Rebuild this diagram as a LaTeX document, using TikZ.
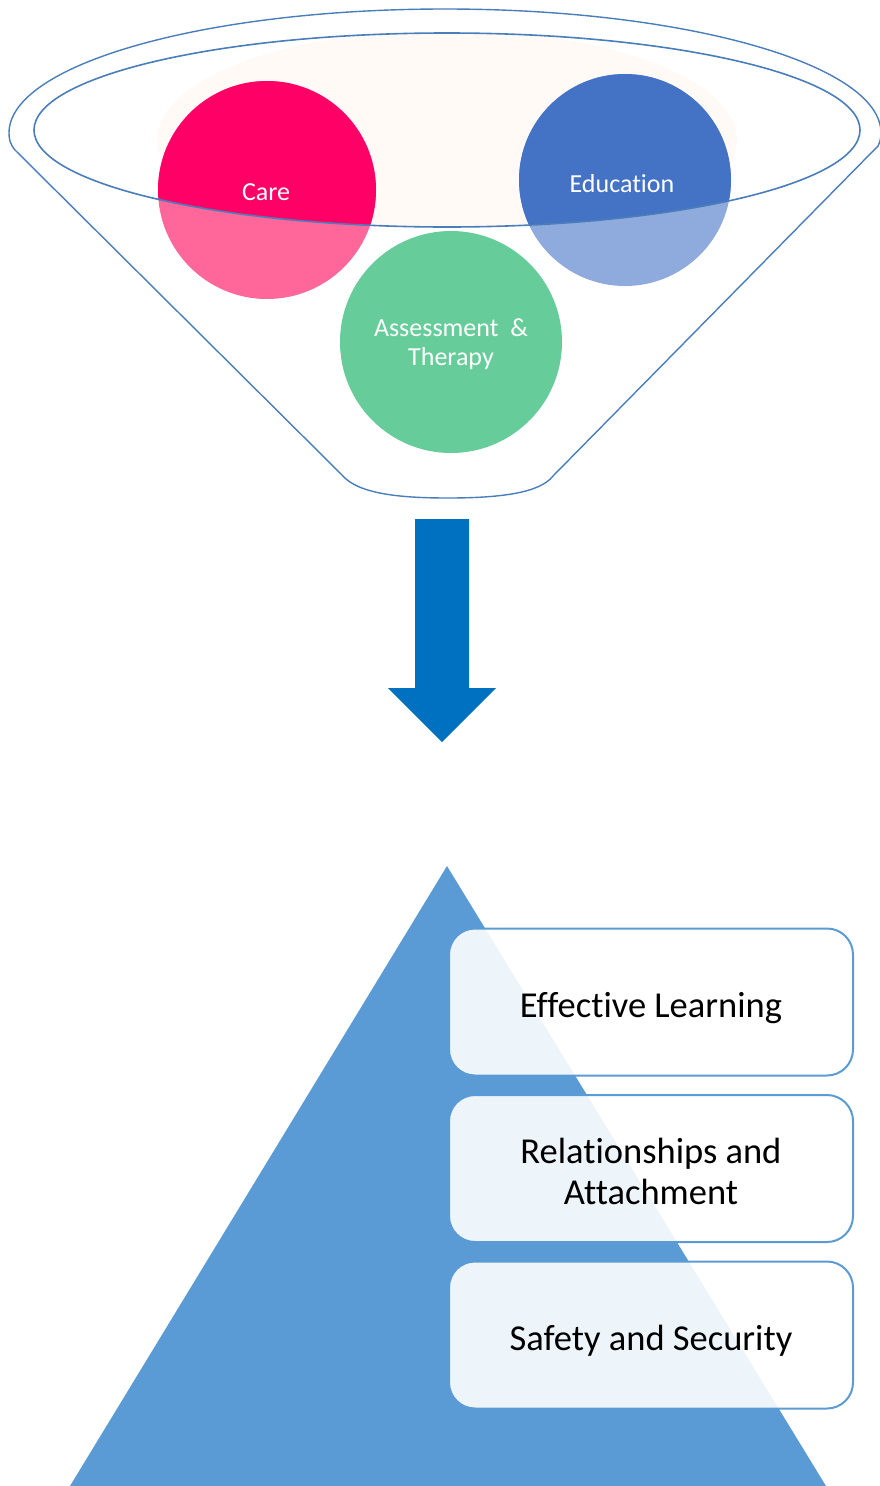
\documentclass[tikz,border=0pt]{standalone}
\usepackage{fontspec}
\setmainfont{Carlito}[Ligatures={NoCommon}]
\definecolor{caredark}{HTML}{FF0066}
\definecolor{carelight}{HTML}{FF6699}
\definecolor{edudark}{HTML}{4472C4}
\definecolor{edulight}{HTML}{8FAADC}
\definecolor{assgreen}{HTML}{66CC99}
\definecolor{arrowblue}{HTML}{0070C0}
\definecolor{pyrblue}{HTML}{5B9BD5}
\definecolor{funline}{HTML}{4A7EBB}
\definecolor{rimfill}{HTML}{FFFAF6}
\begin{document}
\begin{tikzpicture}[x=1pt,y=-1pt,
  funnelline/.style={draw=funline,line width=1.4pt},
  bubble/.style={circle,minimum size=220pt,inner sep=0pt,text=white,align=center,
     font=\fontsize{26}{29}\selectfont},
  levelbox/.style={draw=pyrblue,line width=2pt,rounded corners=26pt,fill=white,fill opacity=0.9,
     minimum width=404pt,minimum height=147pt},
  boxtext/.style={text=black,align=center,inner sep=0pt,font=\fontsize{36.5}{41}\selectfont}]
\useasboundingbox (0,0) rectangle (880,1486);
\clip (0,0) rectangle (880,1486);
% rim fill
\begin{scope}
  \clip (447,130) ellipse [x radius=413, y radius=97];
  \fill[rimfill] (447,140) ellipse [x radius=290, y radius=110];
\end{scope}
% funnel outline
\draw[funnelline] (15,150) .. controls (10,144) and (9,139) .. (9,133)
  arc[start angle=180,end angle=360,x radius=436,y radius=124]
  .. controls (881,138) and (880,142) .. (878,146)
  -- (553,476) .. controls (540,493) and (500,498) .. (448,498)
  .. controls (400,498) and (358,494) .. (342,475) -- cycle;
% circles
\fill[carelight] (267,190) circle[radius=109];
\fill[edulight] (625,180) circle[radius=106];
\begin{scope}
  \clip (447,130) ellipse [x radius=413, y radius=97];
  \fill[caredark] (267,190) circle[radius=109];
  \fill[edudark] (625,180) circle[radius=106];
\end{scope}
\fill[assgreen] (451,342) circle[radius=111];
% inner rim ellipse
\draw[funnelline,line width=1.6pt] (447,130) ellipse [x radius=413, y radius=97];
% labels
\node[bubble] (care) at (266,192) {Care};
\node[bubble] (edu) at (622,184) {Education};
\node[bubble] (ass) at (451,344) {Assessment\ \ \&\\Therapy};
% arrow
\fill[arrowblue] (415,519) -- (469,519) -- (469,688) -- (496,688) -- (442,742)
  -- (388,688) -- (415,688) -- cycle;
% pyramid
\fill[pyrblue] (447,866) -- (826,1486) -- (70,1486) -- cycle;
% boxes
\node[levelbox] (l1) at (651,1002) {};
\node[levelbox] (l2) at (651,1168.5) {};
\node[levelbox] (l3) at (651,1335) {};
\node[boxtext] (t1) at ([yshift=-6pt]l1.center) {Effective Learning};
\node[boxtext] (t2) at ([yshift=-3pt]l2.center) {Relationships and\\Attachment};
\node[boxtext] (t3) at ([yshift=-6pt]l3.center) {Safety and Security};
\end{tikzpicture}
\end{document}
